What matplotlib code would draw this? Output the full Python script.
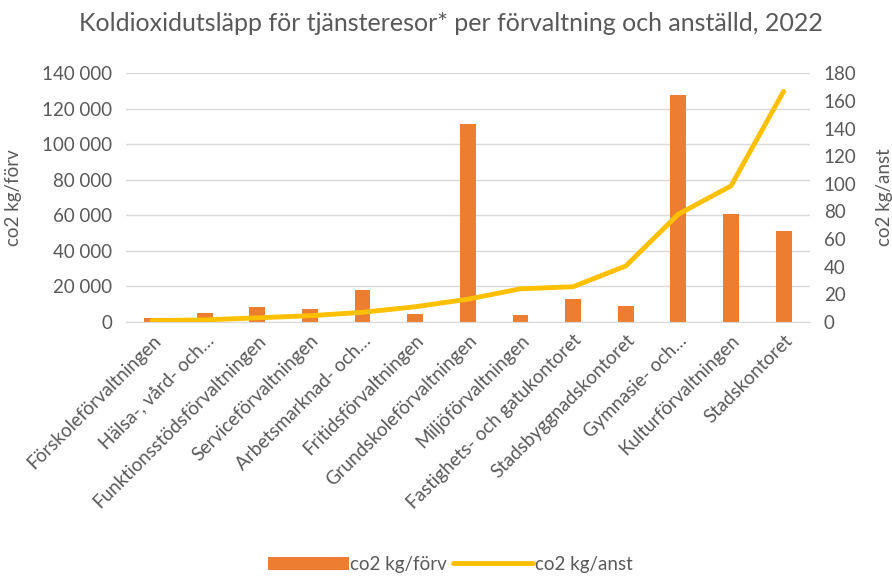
import numpy as np
import matplotlib.pyplot as plt

plt.rcParams['font.family'] = ['Lato', 'DejaVu Sans']

categories = ['Förskoleförvaltningen', 'Hälsa-, vård- och…', 'Funktionsstödsförvaltningen',
              'Serviceförvaltningen', 'Arbetsmarknad- och…', 'Fritidsförvaltningen',
              'Grundskoleförvaltningen', 'Miljöförvaltningen', 'Fastighets- och gatukontoret',
              'Stadsbyggnadskontoret', 'Gymnasie- och…', 'Kulturförvaltningen', 'Stadskontoret']
co2_forv = [2500, 5200, 8400, 7500, 18000, 4500, 111300, 4000, 13000, 8800, 128000, 60500, 51000]
co2_anst = [1, 1.5, 3, 4.5, 7, 11, 16.5, 24, 25.5, 40.5, 78, 98.5, 167]

grey = '#595959'
fig = plt.figure(figsize=(8.92, 5.77), dpi=100)
ax = fig.add_axes([0.141, 0.442, 0.767, 0.431])
ax2 = ax.twinx()

x = np.arange(len(categories))
ax.bar(x, co2_forv, width=0.3, color='#ED7D31', label='co2 kg/förv', zorder=2)
ax2.plot(x, co2_anst, color='#FFC000', lw=3.5, label='co2 kg/anst', solid_capstyle='round')

ax.set_xlim(-0.5, len(categories) - 0.5)
ax.set_ylim(0, 140000)
ax.set_yticks(range(0, 140001, 20000))
ax.set_yticklabels([f'{v:,}'.replace(',', ' ') for v in range(0, 140001, 20000)])
ax2.set_ylim(0, 180)
ax2.set_yticks(range(0, 181, 20))

ax.yaxis.grid(True, color='#D9D9D9', lw=1, zorder=0)
ax.set_axisbelow(True)
for a in (ax, ax2):
    for s in a.spines.values():
        s.set_visible(False)
    a.tick_params(length=0, labelsize=13.5, colors=grey, pad=10)
ax.spines['bottom'].set_visible(True)
ax.spines['bottom'].set_color('#D9D9D9')

ax.set_xticks(x)
ax.set_xticklabels(categories, rotation=45, ha='right', rotation_mode='anchor')
ax.tick_params(axis='x', pad=7)

ax.set_ylabel('co2 kg/förv', fontsize=13.5, color=grey, labelpad=14)
ax2.set_ylabel('co2 kg/anst', fontsize=13.5, color=grey, labelpad=14)

fig.suptitle('Koldioxidutsläpp för tjänsteresor* per förvaltning och anställd, 2022',
             fontsize=18, color=grey, y=0.98, x=0.505)

h1, l1 = ax.get_legend_handles_labels()
h2, l2 = ax2.get_legend_handles_labels()
fig.legend(h1 + h2, l1 + l2, loc='lower center', bbox_to_anchor=(0.505, -0.022), ncol=2,
           frameon=False, fontsize=13.5, labelcolor=grey, handlelength=4.3,
           handletextpad=0.1, columnspacing=0.3)

fig.savefig('out.png', dpi=100)
